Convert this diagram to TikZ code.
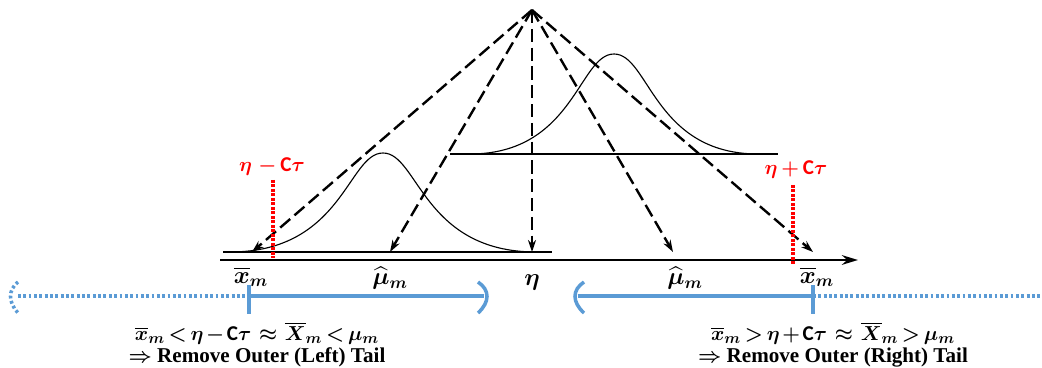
\documentclass[tikz,border=0pt]{standalone}
\usepackage{fontspec}
\usepackage{amsmath}
\setmainfont{Liberation Serif}
\newfontfamily\capfont{Carlito}
\usetikzlibrary{arrows.meta}
\definecolor{TailBlue}{HTML}{5B9BD5}
\definecolor{BoundRed}{HTML}{FF0000}
\tikzset{
  ray/.style={-{Stealth[length=3mm,width=2mm]}, line width=1.7pt, dash pattern=on 3.3mm off 1.4mm},
  bell/.style={line width=.8pt},
  axis/.style={-{Stealth[length=4mm,width=2.4mm]}, line width=2pt},
  bound/.style={draw=BoundRed, line width=2.3pt, dash pattern=on 1.8pt off 1.4pt},
  tail/.style={draw=TailBlue, line width=2.5pt},
  tailcut/.style={tail, dash pattern=on 2pt off 1.8pt},
  mlabel/.style={font=\fontsize{17}{19}\selectfont\boldmath, inner sep=0pt},
  rlabel/.style={font=\fontsize{15}{17}\selectfont\boldmath, inner sep=0pt, text=BoundRed},
  rule/.style={align=center, inner sep=0pt, font=\fontsize{15}{16}\selectfont\bfseries\boldmath},
}
\newcommand{\Cb}{\text{\capfont\bfseries C}}

\begin{document}
\begin{tikzpicture}[x=0.25mm, y=-0.25mm]
  \useasboundingbox (0,0) rectangle (1042,368);
  % bells and their baselines
  \draw[bell] (223,252) -- (552,252);
  \draw[bell] (230,252) .. controls (343,252) and (348,153) .. (383,153)
                        .. controls (418,153) and (423,252) .. (536,252);
  \draw[bell] (450,154) -- (778,154);
  \draw[bell] (470,154) .. controls (574,154) and (579,54) .. (614,54)
                        .. controls (649,54) and (654,154) .. (758,154);
  % number line
  \coordinate (axisL) at (220,260);
  \coordinate (axisR) at (858,260);
  \draw[axis] (axisL) -- (axisR);
  % rays from eta
  \coordinate (apex) at (532,10);
  \coordinate (xbarL) at (252,252);
  \coordinate (muL) at (390,252);
  \coordinate (eta) at (532,252);
  \coordinate (muR) at (673,252);
  \coordinate (xbarR) at (813,252);
  \foreach \tip in {xbarL,muL,eta,muR,xbarR}
    \draw[ray] (apex) -- (\tip);
  % bounds
  \coordinate (lowTop) at (273,180);
  \coordinate (lowBot) at (273,258);
  \draw[bound] (lowTop) -- (lowBot);
  \node[rlabel] (lowLab) at (272,167) {$\eta\;{-}\,\Cb\tau$};
  \coordinate (upTop) at (793,185);
  \coordinate (upBot) at (793,265);
  \draw[bound] (upTop) -- (upBot);
  \node[rlabel] (upLab) at (796,170) {$\eta{\,+\,}\Cb\tau$};
  % axis labels
  \node[mlabel] (xbarLLab) at (251,277) {$\overline{x}_m$};
  \node[mlabel] (muLLab) at (390,278) {$\widehat{\mu}_m$};
  \node[mlabel] (etaLab) at (532,282) {$\eta$};
  \node[mlabel] (muRLab) at (685,278) {$\widehat{\mu}_m$};
  \node[mlabel] (xbarRLab) at (817,277) {$\overline{x}_m$};
  % left tail
  \coordinate (lFar) at (18,296);
  \coordinate (lCut) at (249,296);
  \coordinate (lEnd) at (484,296);
  \draw[tailcut] (lFar) -- (lCut);
  \draw[tail] (lCut) -- (lEnd);
  \draw[tail] (249,285) -- (249,314);
  \draw[tail] (478,282) .. controls (490,290) and (490,302) .. (478,313);
  \draw[tailcut] (18,282) .. controls (8,290) and (8,302) .. (18,313);
  % right tail
  \coordinate (rEnd) at (578,296);
  \coordinate (rCut) at (813,296);
  \coordinate (rFar) at (1042,296);
  \draw[tail] (rEnd) -- (rCut);
  \draw[tailcut] (rCut) -- (rFar);
  \draw[tail] (813,285) -- (813,314);
  \draw[tail] (584,282) .. controls (572,290) and (572,302) .. (584,313);
  % rules
  \node[rule] (leftRule) at (257,345)
    {$\thickmuskip=3mu\medmuskip=2mu\overline{x}_m < \eta - \Cb\tau \;\approx\; \overline{X}_m < \mu_m$\\
     $\Rightarrow$ Remove Outer (Left) Tail};
  \node[rule] (rightRule) at (833,345)
    {$\thickmuskip=3mu\medmuskip=2mu\overline{x}_m > \eta + \Cb\tau \;\approx\; \overline{X}_m > \mu_m$\\
     $\Rightarrow$ Remove Outer (Right) Tail};
\end{tikzpicture}
\end{document}
